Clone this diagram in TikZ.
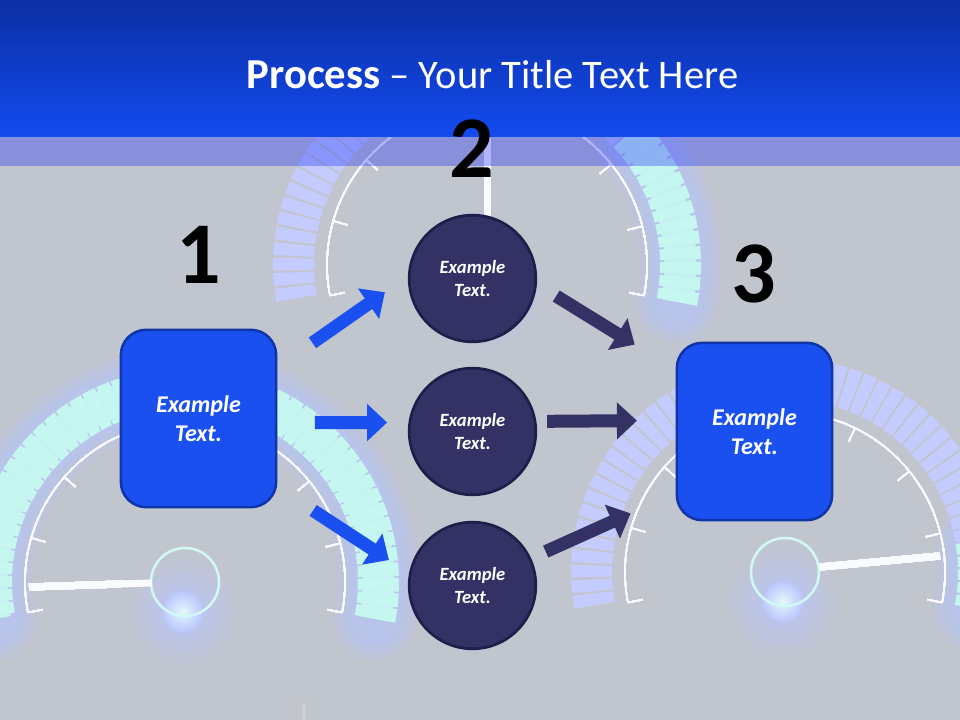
\documentclass[tikz,border=0pt]{standalone}
\usepackage{fontspec}
\setmainfont{Carlito}
\usetikzlibrary{arrows.meta}

\definecolor{pagegray}{HTML}{C1C5CE}
\definecolor{headtop}{HTML}{0B2FA4}
\definecolor{headlow}{HTML}{134BF0}
\definecolor{boxblue}{HTML}{1A50F0}
\definecolor{boxedge}{HTML}{0F35A8}
\definecolor{circfill}{HTML}{343165}
\definecolor{circedge}{HTML}{1E1E4B}
\definecolor{mintseg}{HTML}{C6F6F0}
\definecolor{lavseg}{HTML}{C4CCFF}
\definecolor{glowblue}{HTML}{B8C4FF}

\tikzset{
  boxstep/.style={draw=boxedge, fill=boxblue, line width=1.9pt, rounded corners=19pt,
    minimum width=116.5pt, minimum height=133pt, inner sep=0pt, text=white, align=center,
    font=\fontsize{18}{21.75}\selectfont\bfseries\itshape},
  circstep/.style={circle, draw=circedge, fill=circfill, line width=2pt,
    minimum size=95pt, inner sep=0pt, text=white, align=center,
    font=\fontsize{14}{17.25}\selectfont\bfseries\itshape},
  numlabel/.style={font=\fontsize{66}{66}\selectfont\bfseries, text=black, inner sep=0pt},
  blockarrow/.style={line width=9.75pt, -{Triangle[length=15pt,width=27pt]}},
  dialline/.style={draw=white!92!lavseg, line width=1.05pt},
  needle/.style={draw=white!92!lavseg, line width=5.25pt},
  knobring/.style={draw=mintseg!80!white, line width=1.9pt}
}

% one piece of a gauge band
\newcommand{\bandseg}[4]{%
  \fill[#4] ([shift={(#2:173)}]#1) arc[start angle=#2, end angle=#3, radius=173]
    -- ([shift={(#3:214)}]#1) arc[start angle=#3, end angle=#2, radius=214] -- cycle;
}
% thin arc and ticks of a gauge
\newcommand{\gaugedial}[1]{%
  \draw[dialline] ([shift={(-11:160)}]#1) arc[start angle=-11, end angle=191, radius=160];
  \foreach \a in {-11,14,39,64,89,114,139,164,191}
    \draw[dialline] ([shift={(\a:160)}]#1) -- ([shift={(\a:145)}]#1);
}
% soft light under the lit part of the band
\newcommand{\bandglow}[3]{%
  \foreach \w in {45,49,...,85}
    \draw[glowblue, opacity=0.09, line cap=round, line width=\w*0.75pt]
      ([shift={(#2:193.5)}]#1) arc[start angle=#2, end angle=#3, radius=193.5];
  \draw[mintseg!92!glowblue, line width=24pt]
    ([shift={(#2:193.5)}]#1) arc[start angle=#2, end angle=#3, radius=193.5];
}
% knob with its light at the bottom
\newcommand{\gaugeknob}[1]{%
  \foreach \r in {66,63,...,3} {
    \pgfmathtruncatemacro{\k}{100*(1-\r/66)^1.25}
    \fill[glowblue!\k!pagegray] ([shift={(-2,-30)}]#1) circle[radius=\r];
  }
  \foreach \r in {20,18,...,2} {
    \pgfmathtruncatemacro{\k}{100*(1-\r/22)}
    \fill[mintseg!40!white!\k!glowblue] ([shift={(-2,-30)}]#1) circle[radius=\r];
  }
  \draw[knobring] (#1) circle[radius=34];
}

\begin{document}
\begin{tikzpicture}[x=0.75pt,y=0.75pt,>=Stealth]
  \useasboundingbox (0,0) rectangle (960,720);
  \clip (0,0) rectangle (960,720);
  \fill[pagegray] (0,0) rectangle (960,720);
  \fill[white, opacity=0.2] (301.5,0) rectangle (305,17);

  \coordinate (gaugeA) at (185,138);
  \coordinate (gaugeB) at (487,455);
  \coordinate (gaugeC) at (785,148);

  % left gauge, all lit
  \bandglow{gaugeA}{-11}{191}
  \foreach \a in {-11,-6.8,...,187}
    \pgfmathsetmacro{\b}{\a+3.7}
    \bandseg{gaugeA}{\a}{\b}{mintseg}
  \gaugedial{gaugeA}
  \gaugeknob{gaugeA}
  \draw[needle] (29,133) -- (152,137);

  % top gauge, lit on the right
  \gaugeknob{gaugeB}
  \bandglow{gaugeB}{-11}{40}
  \foreach \a in {-11,-6.8,...,187}
    \pgfmathsetmacro{\b}{\a+3.5}
    \pgfmathsetmacro{\c}{\a<40 ? 1 : 0}
    \ifnum\c>0 \bandseg{gaugeB}{\a}{\b}{mintseg}\else\bandseg{gaugeB}{\a}{\b}{lavseg}\fi
  \gaugedial{gaugeB}
  \draw[needle] (487,609) -- (487,489);

  % right gauge, lit only at its low end
  \gaugeknob{gaugeC}
  \bandglow{gaugeC}{-11}{7}
  \foreach \a in {-11,-6.8,...,187}
    \pgfmathsetmacro{\b}{\a+3.5}
    \pgfmathsetmacro{\c}{\a<8 ? 1 : 0}
    \ifnum\c>0 \bandseg{gaugeC}{\a}{\b}{mintseg}\else\bandseg{gaugeC}{\a}{\b}{lavseg}\fi
  \gaugedial{gaugeC}
  \draw[needle] (820,153) -- (940,164);

  % header and the strip under it
  \shade[top color=headtop, bottom color=headlow] (0,583) rectangle (960,720);
  \fill[blue!70!headlow, opacity=0.3] (0,554) rectangle (960,583);
  \node[text=white, inner sep=0pt, font=\fontsize{30.4}{30.4}\selectfont] (title) at (492.5,645)
    {{\fontsize{32}{32}\selectfont\bfseries Process} -- Your Title Text Here};

  \node[boxstep] (boxA) at (198.5,301.5) {Example\\Text.};
  \node[boxstep] (boxC) at (754.5,288.5) {Example\\Text.};
  \node[circstep] (circA) at (472.5,441.5) {Example\\Text.};
  \node[circstep] (circB) at (472.5,288.5) {Example\\Text.};
  \node[circstep] (circC) at (472.5,134.5) {Example\\Text.};

  \node[numlabel] (numA) at (199,465) {1};
  \node[numlabel] (numB) at (472,571) {2};
  \node[numlabel] (numC) at (754,446) {3};

  % arrows into the circles
  \draw[blockarrow, boxblue, shorten <=32pt, shorten >=21pt] (boxA.33) -- (circA.178);
  \draw[blockarrow, boxblue, shorten <=28pt, shorten >=16pt] (boxA.-3.3) -- (circB.172.4);
  \draw[blockarrow, boxblue, shorten <=32pt, shorten >=18pt] (boxA.-41.7) -- (circC.169);

  % arrows out of the circles
  \draw[blockarrow, circfill, shorten <=17pt, shorten >=36pt] (circA.-5.4) -- (boxC.142);
  \draw[blockarrow, circfill, shorten <=8pt, shorten >=29pt] (circB.9.3) -- (boxC.172.43);
  \draw[blockarrow, circfill, shorten <=12pt, shorten >=37pt] (circC.25.8) -- (boxC.218.5);
\end{tikzpicture}
\end{document}
